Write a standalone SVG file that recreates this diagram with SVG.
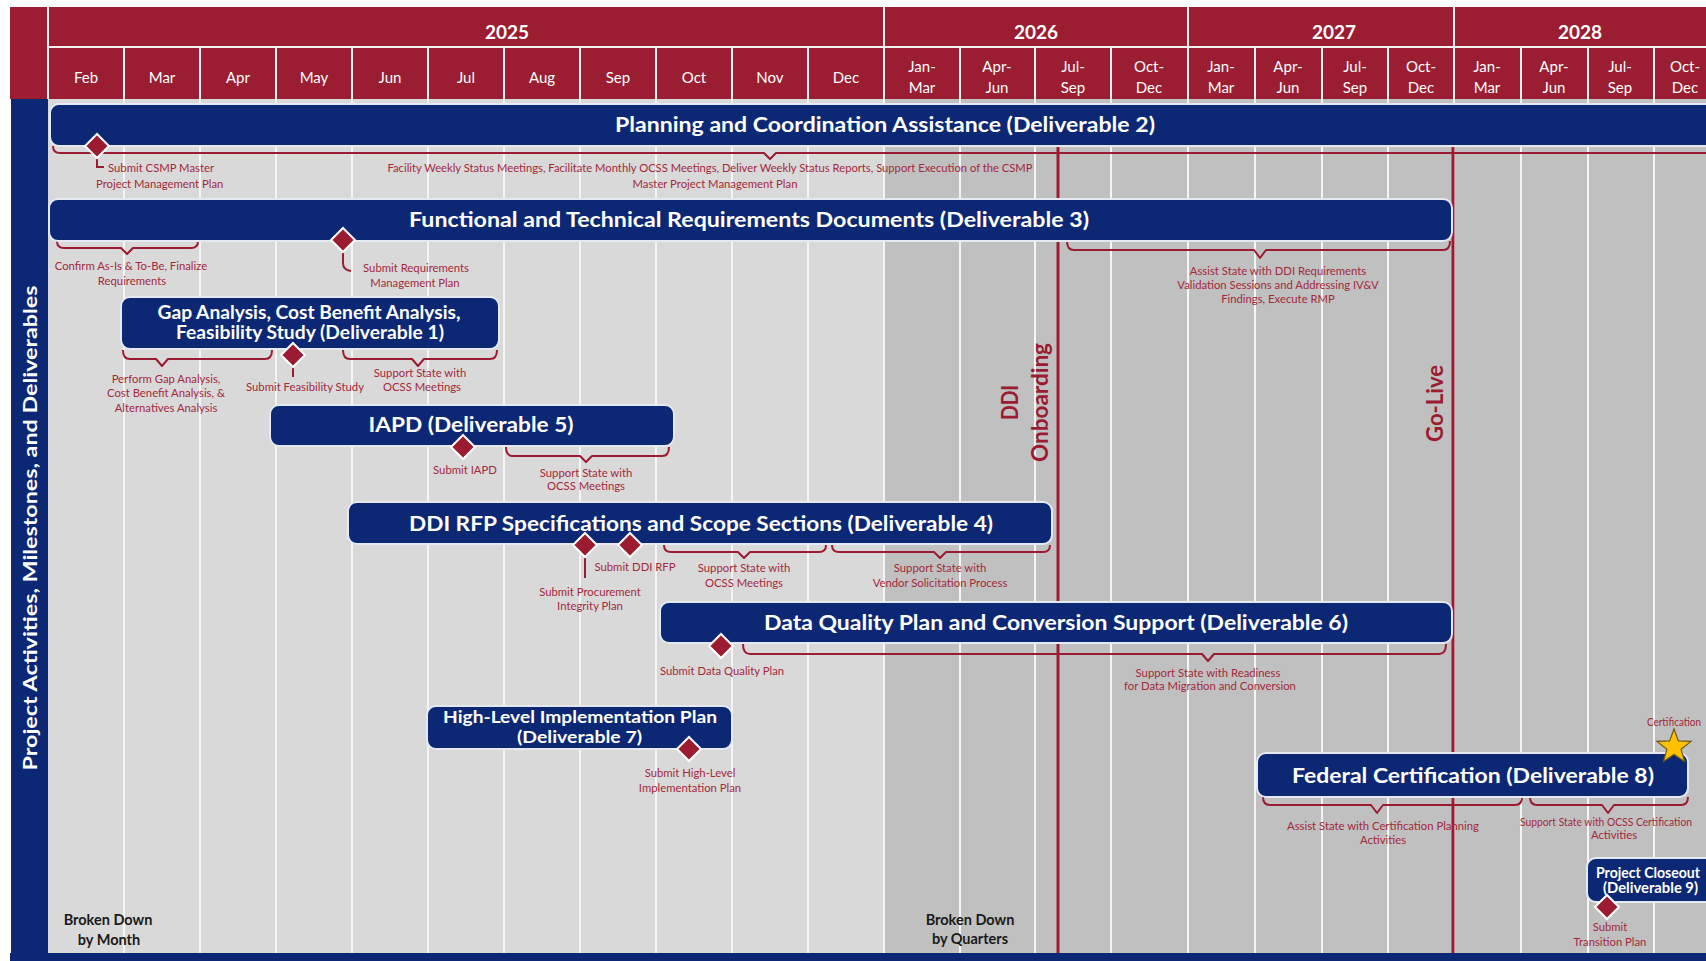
<svg xmlns="http://www.w3.org/2000/svg" xmlns:xlink="http://www.w3.org/1999/xlink" width="1706" height="961" viewBox="0 0 1706 961">
<style>
.red{fill:#9a1d31}
.navy{fill:#0c2875}
.bar{fill:#0c2875;stroke:#e4e9f3;stroke-width:2}
.col{stroke:#f5f5f5;stroke-width:2}
.hsep{stroke:#f2f2f2;stroke-width:2}
.t{font-family:Lato,"Liberation Sans",sans-serif;font-weight:bold;fill:#ffffff;text-anchor:middle}
.hy{font-family:Lato,"Liberation Sans",sans-serif;font-weight:bold;font-size:19px;fill:#ffffff;text-anchor:middle}
.hm{font-family:Lato,"Liberation Sans",sans-serif;font-size:15px;fill:#ffffff;text-anchor:middle}
.s{font-family:Lato,"Liberation Sans",sans-serif;font-size:11.3px;fill:#a3293b;text-anchor:middle}
.sl{font-family:Lato,"Liberation Sans",sans-serif;font-size:11.3px;fill:#a3293b}
.br{fill:none;stroke:#9b1b30;stroke-width:2;stroke-linejoin:round}
.ln{fill:none;stroke:#9b1b30;stroke-width:2}
.ms{stroke:#9b1b30;stroke-width:3}
.dm{fill:#9b1b30;stroke:#ffffff;stroke-width:2}
.mt{font-family:Lato,"Liberation Sans",sans-serif;font-weight:bold;font-size:22px;fill:#9b1b30;text-anchor:middle}
.bk{font-family:Lato,"Liberation Sans",sans-serif;font-weight:bold;font-size:14.5px;fill:#1a1a1a;text-anchor:middle}
</style>
<defs>
<path id="dm" d="M0,-12 L12,0 L0,12 L-12,0 Z"/>
</defs>

<g id="grid">
<rect x="0" y="0" width="1706" height="961" fill="#ffffff"/>
<rect x="48" y="99" width="836" height="854" fill="#d9d9d9"/>
<rect x="884" y="99" width="822" height="854" fill="#c0c0c0"/>
<g class="col">
<line x1="124" y1="99" x2="124" y2="953"/><line x1="200" y1="99" x2="200" y2="953"/><line x1="276" y1="99" x2="276" y2="953"/><line x1="352" y1="99" x2="352" y2="953"/><line x1="428" y1="99" x2="428" y2="953"/><line x1="504" y1="99" x2="504" y2="953"/><line x1="580" y1="99" x2="580" y2="953"/><line x1="656" y1="99" x2="656" y2="953"/><line x1="732" y1="99" x2="732" y2="953"/><line x1="808" y1="99" x2="808" y2="953"/><line x1="884" y1="99" x2="884" y2="953"/><line x1="960" y1="99" x2="960" y2="953"/><line x1="1035" y1="99" x2="1035" y2="953"/><line x1="1111" y1="99" x2="1111" y2="953"/><line x1="1188" y1="99" x2="1188" y2="953"/><line x1="1255" y1="99" x2="1255" y2="953"/><line x1="1322" y1="99" x2="1322" y2="953"/><line x1="1388" y1="99" x2="1388" y2="953"/><line x1="1454" y1="99" x2="1454" y2="953"/><line x1="1521" y1="99" x2="1521" y2="953"/><line x1="1588" y1="99" x2="1588" y2="953"/><line x1="1654" y1="99" x2="1654" y2="953"/>
</g>
<rect x="11" y="99" width="37" height="854" class="navy"/>
<rect x="10" y="953" width="1696" height="8" class="navy"/>
<text class="t" font-size="19" transform="translate(36.5,528) rotate(-90)" textLength="485" lengthAdjust="spacingAndGlyphs">Project Activities, Milestones, and Deliverables</text>
<text class="bk" x="108" y="925">Broken Down</text>
<text class="bk" x="109" y="945">by Month</text>
<text class="bk" x="970" y="925">Broken Down</text>
<text class="bk" x="970" y="944">by Quarters</text>
</g>

<g id="header">
<rect x="10" y="7" width="38" height="92" class="red"/>
<rect x="48" y="7" width="1658" height="92" class="red"/>
<g class="hsep">
<line x1="48" y1="7" x2="48" y2="99"/>
<line x1="48" y1="47" x2="1706" y2="47"/>
<line x1="884" y1="7" x2="884" y2="47"/><line x1="1188" y1="7" x2="1188" y2="47"/><line x1="1454" y1="7" x2="1454" y2="47"/>
<line x1="124" y1="47" x2="124" y2="99"/><line x1="200" y1="47" x2="200" y2="99"/><line x1="276" y1="47" x2="276" y2="99"/><line x1="352" y1="47" x2="352" y2="99"/><line x1="428" y1="47" x2="428" y2="99"/><line x1="504" y1="47" x2="504" y2="99"/><line x1="580" y1="47" x2="580" y2="99"/><line x1="656" y1="47" x2="656" y2="99"/><line x1="732" y1="47" x2="732" y2="99"/><line x1="808" y1="47" x2="808" y2="99"/><line x1="884" y1="47" x2="884" y2="99"/><line x1="960" y1="47" x2="960" y2="99"/><line x1="1035" y1="47" x2="1035" y2="99"/><line x1="1111" y1="47" x2="1111" y2="99"/><line x1="1188" y1="47" x2="1188" y2="99"/><line x1="1255" y1="47" x2="1255" y2="99"/><line x1="1322" y1="47" x2="1322" y2="99"/><line x1="1388" y1="47" x2="1388" y2="99"/><line x1="1454" y1="47" x2="1454" y2="99"/><line x1="1521" y1="47" x2="1521" y2="99"/><line x1="1588" y1="47" x2="1588" y2="99"/><line x1="1654" y1="47" x2="1654" y2="99"/>
</g>
<text class="hy" x="507" y="39">2025</text>
<text class="hy" x="1036" y="39">2026</text>
<text class="hy" x="1334" y="39">2027</text>
<text class="hy" x="1580" y="39">2028</text>
<text class="hm" x="86" y="83">Feb</text><text class="hm" x="162" y="83">Mar</text><text class="hm" x="238" y="83">Apr</text><text class="hm" x="314" y="83">May</text><text class="hm" x="390" y="83">Jun</text><text class="hm" x="466" y="83">Jul</text><text class="hm" x="542" y="83">Aug</text><text class="hm" x="618" y="83">Sep</text><text class="hm" x="694" y="83">Oct</text><text class="hm" x="770" y="83">Nov</text><text class="hm" x="846" y="83">Dec</text>
<text class="hm" x="922" y="72">Jan-</text><text class="hm" x="922" y="93">Mar</text>
<text class="hm" x="997" y="72">Apr-</text><text class="hm" x="997" y="93">Jun</text>
<text class="hm" x="1073" y="72">Jul-</text><text class="hm" x="1073" y="93">Sep</text>
<text class="hm" x="1149" y="72">Oct-</text><text class="hm" x="1149" y="93">Dec</text>
<text class="hm" x="1221" y="72">Jan-</text><text class="hm" x="1221" y="93">Mar</text>
<text class="hm" x="1288" y="72">Apr-</text><text class="hm" x="1288" y="93">Jun</text>
<text class="hm" x="1355" y="72">Jul-</text><text class="hm" x="1355" y="93">Sep</text>
<text class="hm" x="1421" y="72">Oct-</text><text class="hm" x="1421" y="93">Dec</text>
<text class="hm" x="1487" y="72">Jan-</text><text class="hm" x="1487" y="93">Mar</text>
<text class="hm" x="1554" y="72">Apr-</text><text class="hm" x="1554" y="93">Jun</text>
<text class="hm" x="1620" y="72">Jul-</text><text class="hm" x="1620" y="93">Sep</text>
<text class="hm" x="1685" y="72">Oct-</text><text class="hm" x="1685" y="93">Dec</text>
</g>

<g id="connectors">
<line class="ms" x1="1058" y1="147" x2="1058" y2="953"/>
<line class="ms" x1="1453" y1="147" x2="1453" y2="953"/>
<path class="br" d="M53,146 Q53,153 60,153 H764 L770,159 L776,153 H1706"/>
<path class="br" d="M57,241 Q57,248 64,248 H121 L127,254 L133,248 H191 Q198,248 198,241"/>
<path class="br" d="M1067,241 Q1067,250 1074,250 H1254 L1260,258 L1266,250 H1443 Q1450,250 1450,241"/>
<path class="br" d="M123,350 Q123,359 130,359 H156 L162,366 L168,359 H265 Q272,359 272,350"/>
<path class="br" d="M343,350 Q343,359 350,359 H412 L418,366 L424,359 H490 Q497,359 497,350"/>
<path class="br" d="M506,447 Q506,456 513,456 H580 L586,462 L592,456 H662 Q669,456 669,447"/>
<path class="br" d="M664,545 Q664,552 671,552 H738 L744,558 L750,552 H819 Q826,552 826,545"/>
<path class="br" d="M832,545 Q832,552 839,552 H934 L940,558 L946,552 H1043 Q1050,552 1050,545"/>
<path class="br" d="M743,644 Q743,654 750,654 H1202 L1208,661 L1214,654 H1439 Q1446,654 1446,644"/>
<path class="br" d="M1263,797 Q1263,805 1270,805 H1371 L1377,813 L1383,805 H1515 Q1522,805 1522,797"/>
<path class="br" d="M1530,797 Q1530,805 1537,805 H1602 L1608,813 L1614,805 H1681 Q1688,805 1688,797"/>
<path class="ln" stroke-width="1.5" d="M97,158 V167 H104"/>
<path class="ln" stroke-width="1.5" d="M343,252 V263 Q343,270 351,271"/>
<path class="ln" d="M293,367 V377"/>
<path class="ln" d="M585,557 V578"/>
</g>

<g id="milestone-labels">
<text class="mt" transform="translate(1018,402.5) rotate(-90)" textLength="35" lengthAdjust="spacingAndGlyphs">DDI</text>
<text class="mt" transform="translate(1048,402.5) rotate(-90)" textLength="119" lengthAdjust="spacingAndGlyphs">Onboarding</text>
<text class="mt" transform="translate(1443,403.5) rotate(-90)" textLength="77" lengthAdjust="spacingAndGlyphs">Go-Live</text>
</g>

<g id="deliverable2">
<rect class="bar" x="50" y="104" width="1680" height="42" rx="9"/>
<text class="t" font-size="20" x="885" y="132" textLength="540" lengthAdjust="spacingAndGlyphs">Planning and Coordination Assistance (Deliverable 2)</text>
<use href="#dm" class="dm" x="97" y="146"/>
<text class="sl" x="108" y="171.5">Submit CSMP Master</text>
<text class="sl" x="96" y="187.5">Project Management Plan</text>
<text class="s" x="710" y="171.5" textLength="645" lengthAdjust="spacingAndGlyphs">Facility Weekly Status Meetings, Facilitate Monthly OCSS Meetings, Deliver Weekly Status Reports, Support Execution of the CSMP</text>
<text class="s" x="715" y="187.5">Master Project Management Plan</text>
</g>

<g id="deliverable3">
<rect class="bar" x="49" y="199" width="1403" height="42" rx="9"/>
<text class="t" font-size="20" x="749" y="226.5" textLength="680" lengthAdjust="spacingAndGlyphs">Functional and Technical Requirements Documents (Deliverable 3)</text>
<use href="#dm" class="dm" x="343" y="240"/>
<text class="s" x="131" y="269.5">Confirm As-Is &amp; To-Be, Finalize</text>
<text class="s" x="132" y="284.5">Requirements</text>
<text class="s" x="416" y="271.5">Submit Requirements</text>
<text class="s" x="415" y="286.5">Management Plan</text>
<text class="s" x="1278" y="274.5">Assist State with DDI Requirements</text>
<text class="s" x="1278" y="288.5">Validation Sessions and Addressing IV&amp;V</text>
<text class="s" x="1278" y="302.5">Findings, Execute RMP</text>
</g>

<g id="deliverable1">
<rect class="bar" x="121" y="297" width="378" height="52" rx="9"/>
<text class="t" font-size="18" x="309" y="319" textLength="303" lengthAdjust="spacingAndGlyphs">Gap Analysis, Cost Benefit Analysis,</text>
<text class="t" font-size="18" x="310" y="339" textLength="268" lengthAdjust="spacingAndGlyphs">Feasibility Study (Deliverable 1)</text>
<use href="#dm" class="dm" x="293" y="355"/>
<text class="s" x="166" y="382.5">Perform Gap Analysis,</text>
<text class="s" x="166" y="396.5">Cost Benefit Analysis, &amp;</text>
<text class="s" x="166" y="411.5">Alternatives Analysis</text>
<text class="s" x="305" y="390.5">Submit Feasibility Study</text>
<text class="s" x="420" y="376.5">Support State with</text>
<text class="s" x="422" y="390.5">OCSS Meetings</text>
</g>

<g id="deliverable5">
<rect class="bar" x="270" y="405" width="404" height="41" rx="9"/>
<text class="t" font-size="20" x="471" y="432" textLength="205" lengthAdjust="spacingAndGlyphs">IAPD (Deliverable 5)</text>
<use href="#dm" class="dm" x="463" y="447"/>
<text class="s" x="465" y="473.5">Submit IAPD</text>
<text class="s" x="586" y="476.5">Support State with</text>
<text class="s" x="586" y="489.5">OCSS Meetings</text>
</g>

<g id="deliverable4">
<rect class="bar" x="348" y="502" width="704" height="42" rx="9"/>
<text class="t" font-size="20" x="701" y="531" textLength="584" lengthAdjust="spacingAndGlyphs">DDI RFP Specifications and Scope Sections (Deliverable 4)</text>
<use href="#dm" class="dm" x="585" y="545"/>
<use href="#dm" class="dm" x="630" y="545"/>
<text class="s" x="635" y="570.5">Submit DDI RFP</text>
<text class="s" x="590" y="595.5">Submit Procurement</text>
<text class="s" x="590" y="609.5">Integrity Plan</text>
<text class="s" x="744" y="571.5">Support State with</text>
<text class="s" x="744" y="586.5">OCSS Meetings</text>
<text class="s" x="940" y="571.5">Support State with</text>
<text class="s" x="940" y="586.5">Vendor Solicitation Process</text>
</g>

<g id="deliverable6">
<rect class="bar" x="660" y="602" width="792" height="41" rx="9"/>
<text class="t" font-size="20" x="1056" y="630" textLength="584" lengthAdjust="spacingAndGlyphs">Data Quality Plan and Conversion Support (Deliverable 6)</text>
<use href="#dm" class="dm" x="721" y="646"/>
<text class="s" x="722" y="674.5">Submit Data Quality Plan</text>
<text class="s" x="1208" y="676.5">Support State with Readiness</text>
<text class="s" x="1210" y="689.5">for Data Migration and Conversion</text>
</g>

<g id="deliverable7">
<rect class="bar" x="427" y="706" width="305" height="43" rx="9"/>
<text class="t" font-size="17.5" x="580" y="723" textLength="274" lengthAdjust="spacingAndGlyphs">High-Level Implementation Plan</text>
<text class="t" font-size="17.5" x="579.5" y="743" textLength="125" lengthAdjust="spacingAndGlyphs">(Deliverable 7)</text>
<use href="#dm" class="dm" x="689" y="749"/>
<text class="s" x="690" y="776.5">Submit High-Level</text>
<text class="s" x="690" y="791.5">Implementation Plan</text>
</g>

<g id="deliverable8">
<rect class="bar" x="1257" y="753" width="431" height="44" rx="9"/>
<text class="t" font-size="21" x="1473" y="782.5" textLength="362" lengthAdjust="spacingAndGlyphs">Federal Certification (Deliverable 8)</text>
<text class="sl" x="1647" y="725.5" textLength="54" lengthAdjust="spacingAndGlyphs">Certification</text>
<polygon points="1674,729 1678.4,740.9 1691.1,741.4 1681.1,749.3 1684.6,761.6 1674,754.5 1663.4,761.6 1666.9,749.3 1656.9,741.4 1669.6,740.9" fill="#ffc000" stroke="#6b5a1a" stroke-width="1.2"/>
<text class="s" x="1383" y="829.5">Assist State with Certification Planning</text>
<text class="s" x="1383" y="843.5">Activities</text>
<text class="sl" x="1520" y="825.5" font-size="9.5" textLength="172" lengthAdjust="spacingAndGlyphs">Support State with OCSS Certification</text>
<text class="s" x="1614" y="838.5">Activities</text>
</g>

<g id="deliverable9">
<rect class="bar" x="1587" y="858" width="140" height="44" rx="9"/>
<text class="t" font-size="15" x="1596" y="878" style="text-anchor:start" textLength="104" lengthAdjust="spacingAndGlyphs">Project Closeout</text>
<text class="t" font-size="15" x="1603" y="893" style="text-anchor:start" textLength="95" lengthAdjust="spacingAndGlyphs">(Deliverable 9)</text>
<use href="#dm" class="dm" x="1607" y="907"/>
<text class="s" x="1610" y="930.5">Submit</text>
<text class="s" x="1610" y="945.5">Transition Plan</text>
</g>
</svg>
